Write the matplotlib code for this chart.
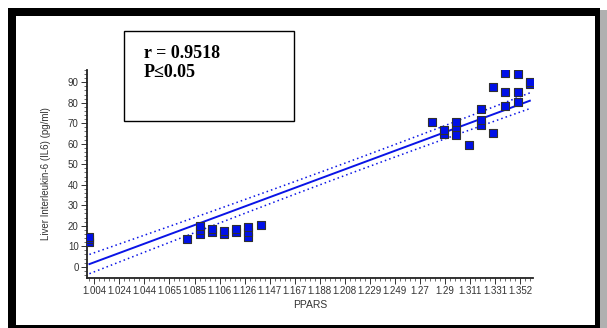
import numpy as np
import matplotlib
matplotlib.use('Agg')
import matplotlib.pyplot as plt
from matplotlib.patches import Rectangle
from matplotlib.ticker import MultipleLocator, AutoMinorLocator

# PPARS values and liver IL6 (pg/ml)
ppars = [1.00, 1.00, 1.00,
         1.08,
         1.09, 1.09, 1.09,
         1.10, 1.10,
         1.11, 1.11,
         1.12, 1.12,
         1.13, 1.13, 1.13,
         1.14,
         1.28,
         1.29, 1.29,
         1.30, 1.30, 1.30,
         1.31,
         1.32, 1.32, 1.32,
         1.33, 1.33,
         1.34, 1.34, 1.34,
         1.35, 1.35, 1.35,
         1.36, 1.36]
il6 = [12.0, 13.5, 14.5,
       13.4,
       16.0, 18.0, 20.0,
       17.0, 18.4,
       16.0, 17.4,
       16.8, 18.4,
       14.7, 17.0, 19.5,
       20.2,
       70.4,
       64.7, 66.7,
       64.2, 68.3, 70.4,
       59.2,
       69.4, 71.6, 76.9,
       65.4, 87.5,
       78.5, 85.4, 94.3,
       80.2, 85.4, 94.0,
       89.0, 90.2]

# regression line as drawn in the picture (ends), and band half-width at ends / centre
line_x = [1.00, 1.36]
line_y = [1.3, 81.0]
band_end = 4.7
band_mid = 3.0

xtick_labels = ['1.004', '1.024', '1.044', '1.065', '1.085', '1.106', '1.126', '1.147', '1.167',
                '1.188', '1.208', '1.229', '1.249', '1.27', '1.29', '1.311', '1.331', '1.352']
stat_text = 'r = 0.9518\nP\u22640.05'

W, H = 607, 328
fig = plt.figure(figsize=(W / 100, H / 100), dpi=100)
fig.patch.set_facecolor('white')

# black picture frame
fig.add_artist(Rectangle((8 / W, 0), 592 / W, 320 / H, transform=fig.transFigure,
                         facecolor='black', edgecolor='none', zorder=0))
fig.add_artist(Rectangle((600 / W, 0), 7 / W, 318 / H, transform=fig.transFigure,
                         facecolor='#b0b0b0', edgecolor='none', zorder=0))
fig.add_artist(Rectangle((16 / W, 3 / H), 579 / W, 309 / H, transform=fig.transFigure,
                         facecolor='white', edgecolor='none', zorder=0))

ax = fig.add_axes([87 / W, 50 / H, 446 / W, 208 / H])
ax.set_facecolor('none')

x = np.array(ppars)
y = np.array(il6)
xs = np.linspace(line_x[0], line_x[1], 100)
ys = np.interp(xs, line_x, line_y)
# hyperbolic confidence band shape through the read widths
xc = x.mean()
d = (xs - xc) ** 2
dmax = max((line_x[0] - xc) ** 2, (line_x[1] - xc) ** 2)
hw = np.sqrt(band_mid ** 2 + (band_end ** 2 - band_mid ** 2) * d / dmax)

ax.plot(xs, ys, color='#0a14e6', lw=1.4, zorder=2)
ax.plot(xs, ys + hw, color='#0a14e6', lw=1.1, ls=(0, (1, 2)), zorder=2)
ax.plot(xs, ys - hw, color='#0a14e6', lw=1.1, ls=(0, (1, 2)), zorder=2)
ax.scatter(x, y, marker='s', s=28, color='#0010e8', edgecolors='#303030', linewidths=0.8, zorder=3)

xt = 1.004 + 0.020471 * np.arange(len(xtick_labels))
ax.set_xticks(xt)
ax.set_xticklabels(xtick_labels)
ax.set_xlim(0.998, 1.3626)
ax.xaxis.set_minor_locator(AutoMinorLocator(5))
ax.set_ylim(-5.5, 96)
ax.yaxis.set_major_locator(MultipleLocator(10))
ax.yaxis.set_minor_locator(MultipleLocator(2))

for sp in ['top', 'right']:
    ax.spines[sp].set_visible(False)
for sp in ['left', 'bottom']:
    ax.spines[sp].set_linewidth(1.3)
    ax.spines[sp].set_color('#222222')
ax.tick_params(which='major', length=4, width=0.7, labelsize=7, pad=2, colors='#333333')
ax.tick_params(which='minor', length=2, width=0.5, colors='#333333')
for lbl in ax.get_xticklabels() + ax.get_yticklabels():
    lbl.set_family('Liberation Sans')

ax.set_xlabel('PPARS', fontsize=7.5, family='Liberation Sans', color='#333333', labelpad=3)
ax.set_ylabel('Liver Interleukin-6 (IL6) (pg/ml)', fontsize=7, family='Liberation Sans',
              color='#333333', labelpad=12)

# stats box
fig.add_artist(Rectangle((124 / W, (H - 121) / H), 170 / W, 90 / H, transform=fig.transFigure,
                         facecolor='white', edgecolor='black', lw=1.0, zorder=4))
fig.text(144 / W, (H - 45) / H, stat_text, fontsize=13, fontweight='bold', family='Liberation Serif',
         va='top', ha='left', linespacing=1.15, zorder=5)

fig.savefig('out.png', dpi=100)
